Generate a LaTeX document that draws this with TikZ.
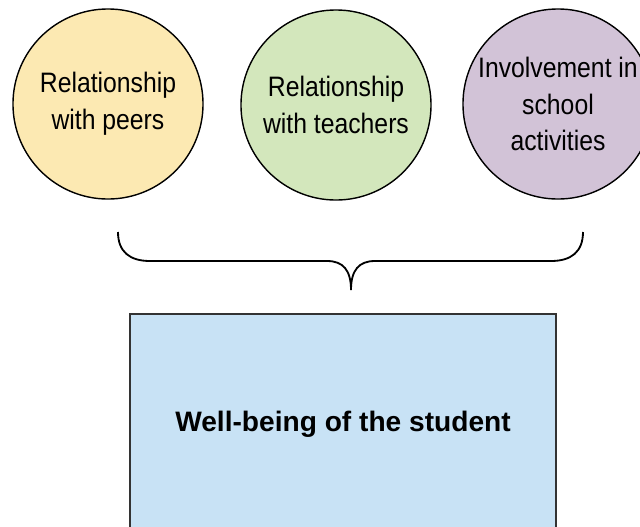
\documentclass[tikz,border=0pt]{standalone}
\usepackage{fontspec}
\setmainfont{Liberation Sans}
\newfontfamily\topicfont[FakeStretch=0.88]{Liberation Sans}
\usepackage{xcolor}
\usetikzlibrary{positioning}

\definecolor{peersfill}{RGB}{252,233,178}
\definecolor{teachersfill}{RGB}{211,231,188}
\definecolor{schoolfill}{RGB}{210,195,215}
\definecolor{studentfill}{RGB}{200,226,245}

\tikzset{
  topic/.style={circle, draw=black, line width=1pt, minimum size=4.75cm,
    inner sep=0pt, align=center, font=\topicfont\fontsize{20}{26}\selectfont},
  result/.style={rectangle, draw=black!80, line width=0.9pt, fill=studentfill,
    minimum width=10.65cm, minimum height=5.5cm,
    font=\bfseries\fontsize{20}{24}\selectfont}
}

\begin{document}
\begin{tikzpicture}[x=0.025cm,y=-0.025cm]
                \clip (0,0) rectangle (640,527);
                % three factors
                \node[topic, fill=peersfill] (peers) at (108,104) {Relationship\\with peers};
                \node[topic, fill=teachersfill] (teachers) at (336,105) {Relationship\\with teachers};
                \node[topic, fill=schoolfill] (school) at (558,104) {Involvement in\\school\\activities};
                % brace
                \draw[black, line width=1.3pt] (118,232) .. controls (118,252) and (130,261) .. (150,261)
                    -- (327,261) .. controls (343,261) and (351,270) .. (351,290)
                    .. controls (351,270) and (359,261) .. (375,261)
                    -- (551,261) .. controls (571,261) and (583,252) .. (583,232);
                % outcome
                \node[result] (student) at (343,424) {Well-being of the student};
            \end{tikzpicture}
\end{document}
